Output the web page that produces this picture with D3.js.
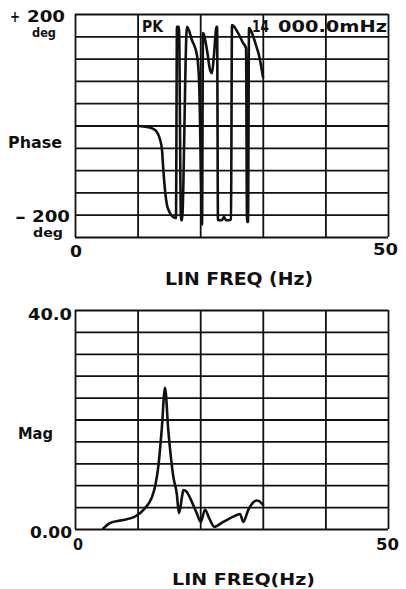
<!DOCTYPE html>
<html><head><meta charset="utf-8">
<script src="https://cdn.jsdelivr.net/npm/d3@7"></script>
<style>
html,body{margin:0;padding:0;background:#fff;}
svg{display:block;}
text{font-family:"DejaVu Sans","Liberation Sans",sans-serif;font-weight:bold;fill:#111;}
</style></head>
<body>
<script>
// ---- data ----
const freqTicks = [0, 10, 20, 30, 40, 50];
const phaseTicks = [-200, -160, -120, -80, -40, 0, 40, 80, 120, 160, 200];
const magTicks = [0, 4, 8, 12, 16, 20, 24, 28, 32, 36, 40];

const phaseFreq = [10.0,11.7,12.8,13.6,13.9,14.06,14.38,14.7,15.18,15.65,16.13,16.29,16.61,16.93,17.09,17.89,18.69,19.49,19.81,19.97,20.13,20.29,20.45,21.09,21.57,21.88,22.2,22.6,22.7,22.84,23.48,23.8,24.12,24.6,24.92,25.08,26.04,26.84,27.32,27.48,27.64,27.8,28.27,28.91,29.39,29.71,30.03];
const phaseDeg  = [-1,-3,-8,-26,-44,-71,-116,-143,-157,-164,-166,177,177,-170,-170,177,153,126,82,10,-98,-178,166,135,100,94,126,177,177,-170,-170,-164,-170,-170,-168,180,166,148,139,-173,-173,175,166,144,126,108,87];

const magFreq = [4.52,5.59,7.46,9.58,11.18,12.25,12.78,13.31,13.85,14.38,14.9,15.7,16.25,16.61,17.14,17.3,17.84,18.37,19.44,20.08,20.77,21.45,22.25,23.69,25.29,26.36,26.88,27.68,29.03,29.82,30.03];
const magVal  = [0.1,1.1,1.6,2.25,3.8,5.7,7.7,11.4,18.1,25.8,18.1,9.6,6.5,2.9,6.2,7.1,6.8,5.7,2.9,1.3,3.5,1.95,0.4,1.3,2.25,2.75,1.3,3.5,5.2,4.7,4.4];

const W = 406, H = 589;
const svg = d3.select("body").append("svg").attr("width", W).attr("height", H);

function panel(y0, y1, domain, ticks, xs, ys, curve) {
  const x = d3.scaleLinear().domain([0, 50]).range([75, 388]);
  const y = d3.scaleLinear().domain(domain).range([y1, y0]);
  const g = svg.append("g");
  g.append("g").attr("transform", `translate(0,${y1})`)
    .call(d3.axisBottom(x).tickValues(freqTicks).tickSize(-(y1 - y0)).tickFormat(""))
    .call(a => a.select(".domain").remove())
    .call(a => a.selectAll("line").attr("stroke", "#111").attr("stroke-width", 1.8));
  g.append("g").attr("transform", `translate(75,0)`)
    .call(d3.axisLeft(y).tickValues(ticks).tickSize(-(388 - 75)).tickFormat(""))
    .call(a => a.select(".domain").remove())
    .call(a => a.selectAll("line").attr("stroke", "#111").attr("stroke-width", 1.8));
  const line = d3.line().x((d, i) => x(xs[i])).y((d, i) => y(ys[i])).curve(curve);
  g.append("path").datum(xs).attr("d", line)
    .attr("fill", "none").attr("stroke", "#111").attr("stroke-width", 2.6)
    .attr("stroke-linejoin", "round").attr("stroke-linecap", "round");
  return {x, y, g};
}

const phasePanel = panel(14, 237, [-200, 200], phaseTicks, phaseFreq, phaseDeg, d3.curveMonotoneX);
const magPanel = panel(310, 529, [0, 40], magTicks, magFreq, magVal, d3.curveMonotoneX);

// text helper: x = left edge, width = target width
function txt(x, y, s, size, width) {
  const t = svg.append("text").attr("x", x).attr("y", y).attr("font-size", size).text(s);
  if (width) t.attr("textLength", width).attr("lengthAdjust", "spacingAndGlyphs");
  return t;
}

// top panel labels
txt(142, 32, "PK", 15, 21);
txt(252, 32, "14", 15, 17);
txt(278, 32, "000.0mHz", 15, 109);
txt(10, 22, "+", 15, 10);
txt(27, 22, "200", 15, 38);
txt(32, 37, "deg", 12, 24);
txt(8, 148, "Phase", 15, 54);
txt(15, 222, "-", 15, 11);
txt(32, 222, "200", 15, 38);
txt(33, 237, "deg", 12, 30);
txt(70, 257, "0", 15, 12);
txt(373, 255, "50", 15, 25);
txt(165, 285, "LIN FREQ (Hz)", 17, 148);

// bottom panel labels
txt(28, 320, "40.0", 16, 44);
txt(18, 439, "Mag", 15, 35);
txt(30, 538, "0.00", 15, 42);
txt(73, 550, "0", 15, 10);
txt(376, 550, "50", 15, 23);
txt(172, 585, "LIN FREQ(Hz)", 16, 143);
</script>
</body></html>
